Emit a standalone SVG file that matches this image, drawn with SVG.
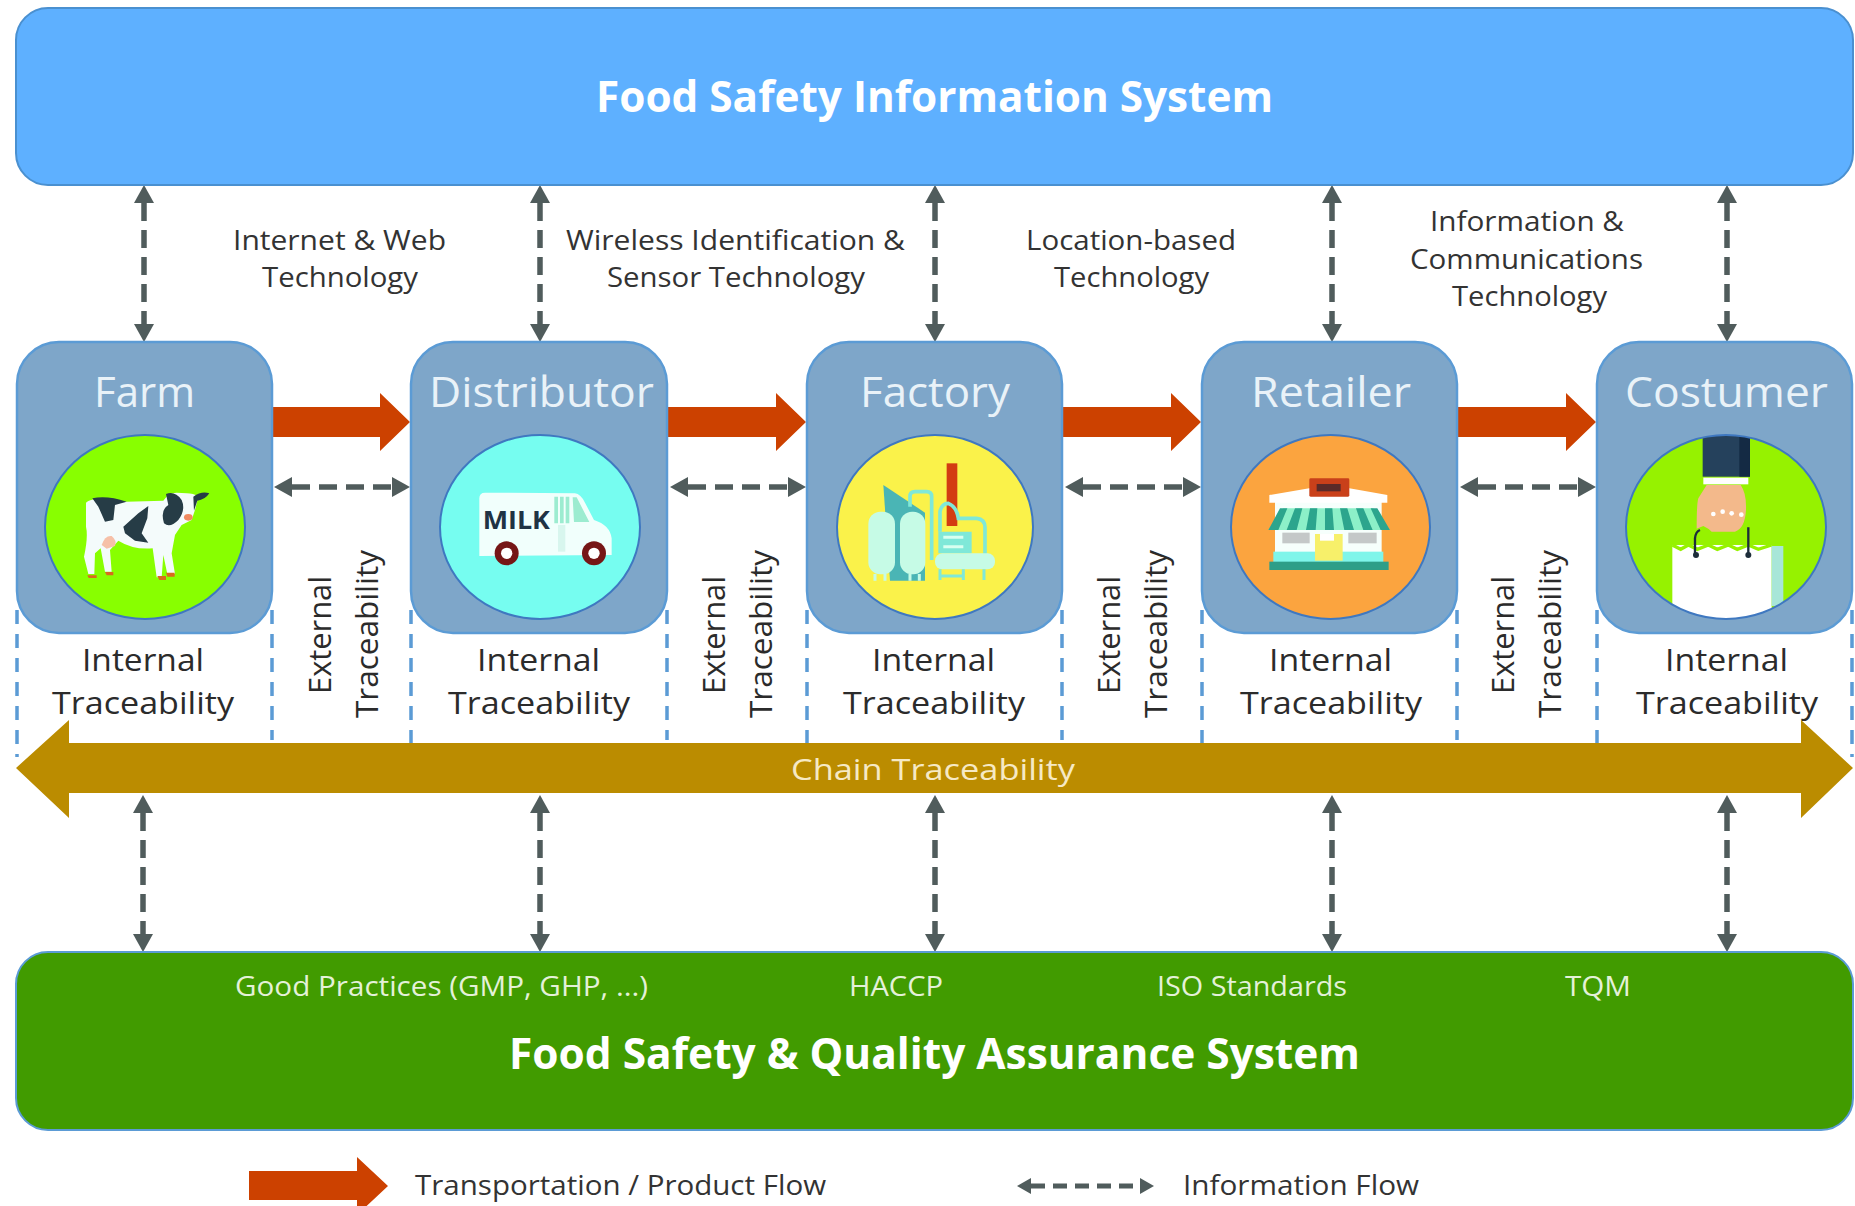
<svg xmlns="http://www.w3.org/2000/svg" width="1855" height="1206" viewBox="0 0 1855 1206">
<style>
text{font-family:"Open Sans","Noto Sans","Liberation Sans",sans-serif}
.banner{font-size:43px;font-weight:700;fill:#fff;text-anchor:start}
.node{font-size:42px;fill:#e9f2f8}
.lbl{font-size:28px;fill:#333}
.tr{font-size:31px;fill:#2b2b2b}
.std{font-size:28px;fill:#e4f1d8}
.box{fill:#7ea6c9;stroke:#5b9bd5;stroke-width:2.500}
.disc{stroke:#3f78c0;stroke-width:2}
.info{stroke:#505c5c;stroke-width:5.500;stroke-dasharray:18 9;fill:none;marker-start:url(#ah);marker-end:url(#ah)}
.bound{stroke:#5b9bd5;stroke-width:3.500;stroke-dasharray:14 10;fill:none}
.flow{fill:#cc4100}
</style>
<defs>
<marker id="ah" markerUnits="userSpaceOnUse" markerWidth="20" markerHeight="22" refX="0" refY="11" orient="auto-start-reverse"><path d="M0 1L18 11L0 21Z" fill="#505c5c"/></marker>
<marker id="ahs" markerUnits="userSpaceOnUse" markerWidth="16" markerHeight="18" refX="0" refY="9" orient="auto-start-reverse"><path d="M0 1L14 9L0 17Z" fill="#505c5c"/></marker>
<clipPath id="cc"><ellipse cx="1726" cy="527" rx="100" ry="92"/></clipPath>
</defs>
<rect width="1855" height="1206" fill="#fff"/>

<g id="boundaries">
<path class="bound" d="M17 610V757M272 610V740M411 610V745M667 610V740M807 610V745M1062 610V740M1202 610V745M1457 610V740M1597 610V745M1852 610V757"/>
</g>

<g id="connectors">
<line class="info" x1="144" y1="203" x2="144" y2="324"/>
<line class="info" x1="540" y1="203" x2="540" y2="324"/>
<line class="info" x1="935" y1="203" x2="935" y2="324"/>
<line class="info" x1="1332" y1="203" x2="1332" y2="324"/>
<line class="info" x1="1727" y1="203" x2="1727" y2="324"/>
<line class="info" x1="143" y1="813" x2="143" y2="934"/>
<line class="info" x1="540" y1="813" x2="540" y2="934"/>
<line class="info" x1="935" y1="813" x2="935" y2="934"/>
<line class="info" x1="1332" y1="813" x2="1332" y2="934"/>
<line class="info" x1="1727" y1="813" x2="1727" y2="934"/>
<line class="info" x1="292" y1="487" x2="392" y2="487"/>
<line class="info" x1="688" y1="487" x2="788" y2="487"/>
<line class="info" x1="1083" y1="487" x2="1183" y2="487"/>
<line class="info" x1="1478" y1="487" x2="1578" y2="487"/>
<path class="flow" d="M272 407H380V393L410 422L380 451V437H272Z"/>
<path class="flow" d="M667 407H776V393L806 422L776 451V437H667Z"/>
<path class="flow" d="M1062 407H1171V393L1201 422L1171 451V437H1062Z"/>
<path class="flow" d="M1458 407H1566V393L1596 422L1566 451V437H1458Z"/>
</g>

<g id="food-safety-information-system">
<rect x="16" y="8" width="1837" height="177" rx="32" fill="#5eb0ff" stroke="#4a90d0" stroke-width="2"/>
<text class="banner" x="596" y="112" textLength="677" lengthAdjust="spacingAndGlyphs">Food Safety Information System</text>
</g>

<g id="farm">
<rect class="box" x="17" y="342" width="255" height="291" rx="42"/>
<text class="node" x="94" y="407" textLength="101" lengthAdjust="spacingAndGlyphs">Farm</text>
<ellipse class="disc" cx="145" cy="527" rx="100" ry="92" fill="#88ff00"/>
<g transform="translate(60 470) scale(.3333)">
<path d="M78 98Q90 85 120 88L200 95L310 92Q325 68 350 68L380 70Q400 70 415 80L405 120L395 150L365 165L345 195L335 250L345 312H322L310 255L305 322H290L278 235Q220 240 175 212L150 240L155 305H135L122 235L105 250L103 312H85L72 260Q85 200 78 170Z" fill="#f4fbfb"/>
<path d="M97 85Q140 75 200 95L165 105L160 150L135 155L115 110Z" fill="#263c46"/>
<path d="M190 170L235 130L265 108L262 145L245 190L265 218L225 212L195 190Z" fill="#263c46"/>
<path d="M318 72Q345 62 365 90Q378 120 355 150Q330 175 312 160Q300 120 325 105Z" fill="#263c46"/>
<path d="M400 80Q425 62 448 70Q435 90 412 92L402 122Z" fill="#263c46"/>
<path d="M125 225Q135 195 155 198Q172 212 165 228L140 236Z" fill="#f6c0a8"/>
<ellipse cx="385" cy="142" rx="13" ry="10" fill="#f08a60"/>
<path d="M82 316H110V324H86ZM135 306H160V316H140ZM292 318H318V330H298ZM318 308H344V320H322Z" fill="#d76a1e"/>
</g>
</g>

<g id="distributor">
<rect class="box" x="411" y="342" width="256" height="291" rx="42"/>
<text class="node" x="429" y="407" textLength="225" lengthAdjust="spacingAndGlyphs">Distributor</text>
<ellipse class="disc" cx="540" cy="527" rx="100" ry="92" fill="#76fdf0"/>
<g transform="translate(460 470) scale(.3333)">
<path d="M58 85Q58 68 75 68L345 70Q362 72 375 98L402 150Q450 165 455 205V255L58 258Z" fill="#f1fffc"/>
<path d="M283 80H294V160H283ZM300 80H311V160H300ZM317 80H328V160H317ZM338 82H350L388 156H342Z" fill="#9cecd0"/>
<path d="M305 165V245" stroke="#d8f6ee" stroke-width="22"/>
<text x="68" y="178" font-size="76" font-weight="700" fill="#1f3344" textLength="202" lengthAdjust="spacingAndGlyphs">MILK</text>
<circle cx="140" cy="250" r="36" fill="#761616"/><circle cx="140" cy="250" r="17" fill="#fff"/>
<circle cx="402" cy="250" r="36" fill="#761616"/><circle cx="402" cy="250" r="17" fill="#fff"/>
</g>
</g>

<g id="factory">
<rect class="box" x="807" y="342" width="255" height="291" rx="42"/>
<text class="node" x="860" y="407" textLength="150" lengthAdjust="spacingAndGlyphs">Factory</text>
<ellipse class="disc" cx="935" cy="527" rx="98" ry="92" fill="#faf24a"/>
<g transform="translate(860 450) scale(.3333)">
<rect x="260" y="40" width="32" height="188" fill="#d33c12"/>
<path d="M70 105L195 188V392H90Z" fill="#4ab5b5"/>
<rect x="25" y="185" width="80" height="188" rx="36" fill="#c6fbe6"/>
<rect x="120" y="185" width="76" height="188" rx="36" fill="#c6fbe6"/>
<path d="M150 170V140Q150 125 165 125H200Q215 125 215 140V330M240 245V185Q245 160 265 160Q290 170 295 205H350Q375 208 375 232V320" fill="none" stroke="#7fe8d8" stroke-width="11"/>
<path d="M235 245H335V310H235Z" fill="#7fe8d8"/>
<path d="M250 262H310M250 290H310" stroke="#d8fff0" stroke-width="9"/>
<rect x="225" y="310" width="180" height="48" rx="22" fill="#c6fbe6"/>
<path d="M240 358V390M310 358V390M372 358V390M240 378H310" stroke="#7fe8d8" stroke-width="9"/>
<path d="M45 372V392M75 372V392M150 372V392M178 372V392" stroke="#c6fbe6" stroke-width="9"/>
</g>
</g>

<g id="retailer">
<rect class="box" x="1202" y="342" width="255" height="291" rx="42"/>
<text class="node" x="1251" y="407" textLength="160" lengthAdjust="spacingAndGlyphs">Retailer</text>
<ellipse class="disc" cx="1330.500" cy="527" rx="99.500" ry="92" fill="#fba43f"/>
<g transform="translate(1250 460) scale(.3333)">
<rect x="75" y="125" width="320" height="185" fill="#f6fffc"/>
<path d="M58 105L178 85H298L412 105V128H58Z" fill="#fff"/>
<rect x="178" y="55" width="120" height="55" rx="4" fill="#c9401a"/>
<rect x="200" y="72" width="72" height="22" fill="#5a2a28"/>
<path d="M55 210L100 145H370L420 210Z" fill="#8cf0c8"/>
<path d="M55 210L90 145H112L85 210ZM110 210L135 145H157L140 210ZM168 210L180 145H202L197 210ZM225 210V145H247L252 210ZM283 210L270 145H292L312 210ZM340 210L318 145H340L368 210ZM392 210L362 145H382L420 210Z" fill="#2ca58d"/>
<rect x="97" y="218" width="82" height="32" fill="#c4c8c8"/>
<rect x="295" y="218" width="85" height="32" fill="#c4c8c8"/>
<rect x="70" y="275" width="330" height="32" fill="#7ff5ea"/>
<rect x="195" y="222" width="83" height="80" fill="#f7f06a"/>
<rect x="210" y="222" width="42" height="20" fill="#fff"/>
<rect x="58" y="305" width="358" height="25" fill="#2e9e88"/>
</g>
</g>

<g id="costumer">
<rect class="box" x="1597" y="342" width="255" height="291" rx="42"/>
<text class="node" x="1625" y="407" textLength="203" lengthAdjust="spacingAndGlyphs">Costumer</text>
<ellipse cx="1726" cy="527" rx="100" ry="92" fill="#96f200"/>
<g clip-path="url(#cc)"><g transform="translate(1640 430) scale(.3333)">
<rect x="97" y="345" width="298" height="230" fill="#fff"/>
<path d="M97 345L122 358L145 345L172 358L205 345L232 358L265 345L292 358L325 345L355 358L395 345" fill="none" stroke="#96f200" stroke-width="10"/>
<rect x="395" y="348" width="35" height="180" fill="#a8e6d8"/>
<rect x="188" y="10" width="142" height="130" fill="#25415c"/>
<rect x="298" y="10" width="32" height="130" fill="#142a44"/>
<rect x="190" y="143" width="135" height="20" fill="#fff"/>
<path d="M200 165H302Q320 190 318 240Q315 295 285 305H215Q205 295 190 288L170 296Q170 220 175 205Z" fill="#f3b98b"/>
<circle cx="220" cy="252" r="7" fill="#fff"/><circle cx="248" cy="245" r="7" fill="#fff"/><circle cx="275" cy="250" r="7" fill="#fff"/><circle cx="304" cy="254" r="7" fill="#fff"/>
<path d="M165 375V325Q167 305 180 300M325 375V292" fill="none" stroke="#1d2d3a" stroke-width="7"/>
<circle cx="168" cy="375" r="9" fill="#1d2d3a"/><circle cx="325" cy="375" r="9" fill="#1d2d3a"/>
</g></g>
<ellipse class="disc" cx="1726" cy="527" rx="100" ry="92" fill="none"/>
</g>

<g id="traceability-labels">
<text class="tr" x="82" y="671" textLength="122" lengthAdjust="spacingAndGlyphs">Internal</text>
<text class="tr" x="52" y="714" textLength="182" lengthAdjust="spacingAndGlyphs">Traceability</text>
<text class="tr" x="477" y="671" textLength="123" lengthAdjust="spacingAndGlyphs">Internal</text>
<text class="tr" x="448" y="714" textLength="182" lengthAdjust="spacingAndGlyphs">Traceability</text>
<text class="tr" x="872" y="671" textLength="123" lengthAdjust="spacingAndGlyphs">Internal</text>
<text class="tr" x="843" y="714" textLength="182" lengthAdjust="spacingAndGlyphs">Traceability</text>
<text class="tr" x="1269" y="671" textLength="123" lengthAdjust="spacingAndGlyphs">Internal</text>
<text class="tr" x="1240" y="714" textLength="182" lengthAdjust="spacingAndGlyphs">Traceability</text>
<text class="tr" x="1665" y="671" textLength="123" lengthAdjust="spacingAndGlyphs">Internal</text>
<text class="tr" x="1636" y="714" textLength="182" lengthAdjust="spacingAndGlyphs">Traceability</text>
<text class="tr" transform="translate(331 694) rotate(-90)" textLength="118" lengthAdjust="spacingAndGlyphs">External</text>
<text class="tr" transform="translate(378 718) rotate(-90)" textLength="168" lengthAdjust="spacingAndGlyphs">Traceability</text>
<text class="tr" transform="translate(725 694) rotate(-90)" textLength="118" lengthAdjust="spacingAndGlyphs">External</text>
<text class="tr" transform="translate(772 718) rotate(-90)" textLength="168" lengthAdjust="spacingAndGlyphs">Traceability</text>
<text class="tr" transform="translate(1120 694) rotate(-90)" textLength="118" lengthAdjust="spacingAndGlyphs">External</text>
<text class="tr" transform="translate(1167 718) rotate(-90)" textLength="168" lengthAdjust="spacingAndGlyphs">Traceability</text>
<text class="tr" transform="translate(1514 694) rotate(-90)" textLength="118" lengthAdjust="spacingAndGlyphs">External</text>
<text class="tr" transform="translate(1561 718) rotate(-90)" textLength="168" lengthAdjust="spacingAndGlyphs">Traceability</text>
</g>

<g id="technology-labels">
<text class="lbl" x="233" y="250" textLength="213" lengthAdjust="spacingAndGlyphs">Internet &amp; Web</text>
<text class="lbl" x="262" y="287" textLength="156" lengthAdjust="spacingAndGlyphs">Technology</text>
<text class="lbl" x="566" y="250" textLength="339" lengthAdjust="spacingAndGlyphs">Wireless Identification &amp;</text>
<text class="lbl" x="607" y="287" textLength="258" lengthAdjust="spacingAndGlyphs">Sensor Technology</text>
<text class="lbl" x="1026" y="250" textLength="210" lengthAdjust="spacingAndGlyphs">Location-based</text>
<text class="lbl" x="1054" y="287" textLength="155" lengthAdjust="spacingAndGlyphs">Technology</text>
<text class="lbl" x="1430" y="231" textLength="194" lengthAdjust="spacingAndGlyphs">Information &amp;</text>
<text class="lbl" x="1410" y="269" textLength="233" lengthAdjust="spacingAndGlyphs">Communications</text>
<text class="lbl" x="1452" y="306" textLength="155" lengthAdjust="spacingAndGlyphs">Technology</text>
</g>

<g id="chain-traceability">
<path d="M16 768L69 720V743H1801V720L1853 768L1801 818V793H69V818Z" fill="#bb8c00"/>
<text x="791" y="780" font-size="30" fill="#f6e9c4" textLength="284" lengthAdjust="spacingAndGlyphs">Chain Traceability</text>
</g>

<g id="food-safety-quality-assurance-system">
<rect x="16" y="952" width="1837" height="178" rx="32" fill="#419b00" stroke="#5b9bd5" stroke-width="2"/>
<text class="std" x="235" y="996" textLength="413" lengthAdjust="spacingAndGlyphs">Good Practices (GMP, GHP, ...)</text>
<text class="std" x="849" y="996" textLength="94" lengthAdjust="spacingAndGlyphs">HACCP</text>
<text class="std" x="1157" y="996" textLength="190" lengthAdjust="spacingAndGlyphs">ISO Standards</text>
<text class="std" x="1565" y="996" textLength="66" lengthAdjust="spacingAndGlyphs">TQM</text>
<text class="banner" x="509" y="1069" textLength="851" lengthAdjust="spacingAndGlyphs">Food Safety &amp; Quality Assurance System</text>
</g>

<g id="legend">
<path class="flow" d="M249 1171H357V1157L388 1186L357 1215V1200H249Z"/>
<text class="lbl" x="415" y="1195" textLength="411" lengthAdjust="spacingAndGlyphs">Transportation / Product Flow</text>
<line x1="1031" y1="1186" x2="1140" y2="1186" stroke="#505c5c" stroke-width="5" stroke-dasharray="14 8" marker-start="url(#ahs)" marker-end="url(#ahs)"/>
<text class="lbl" x="1183" y="1195" textLength="236" lengthAdjust="spacingAndGlyphs">Information Flow</text>
</g>
</svg>
